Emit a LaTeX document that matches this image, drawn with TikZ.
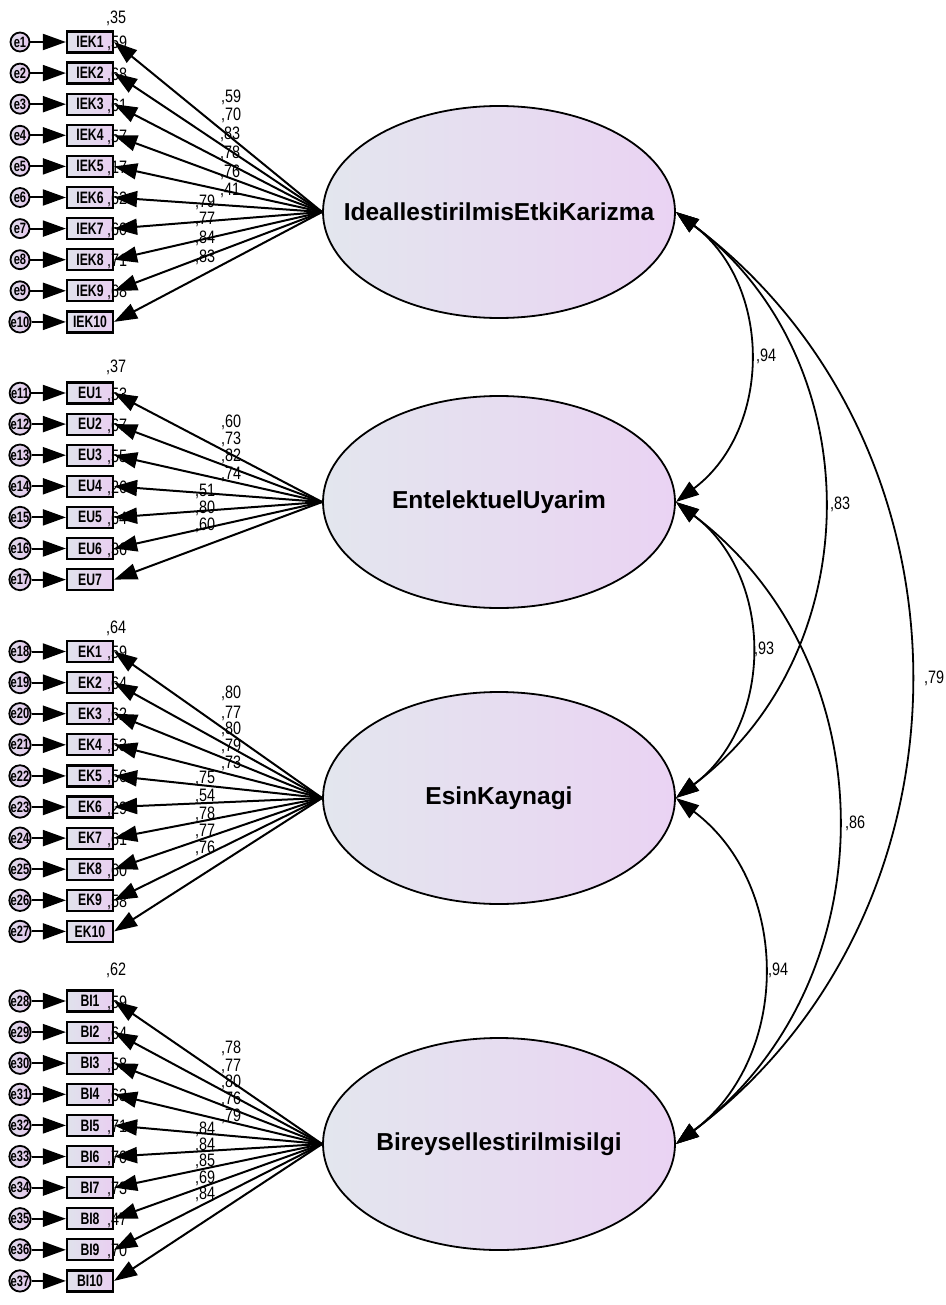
\documentclass[tikz,border=0pt]{standalone}
\usepackage{fontspec}
\setmainfont{Liberation Sans}
\newfontfamily\valfont{Liberation Sans}[FakeStretch=0.8]
\newfontfamily\boxfont{Liberation Sans}[FakeStretch=0.74]
\usetikzlibrary{arrows.meta,shapes.geometric}

\definecolor{latL}{RGB}{227,230,238}
\definecolor{latR}{RGB}{234,211,243}
\definecolor{boxL}{RGB}{224,226,236}
\definecolor{boxR}{RGB}{233,207,241}
\definecolor{errL}{RGB}{220,218,232}
\definecolor{errR}{RGB}{230,200,238}

\tikzset{
  ind/.style={draw, line width=2.2pt, minimum width=46pt, minimum height=21pt,
    inner sep=0pt, left color=boxL, right color=boxR,
    font=\boxfont\bfseries\fontsize{16.5}{16.5}\selectfont},
  err/.style={draw, circle, line width=1.8pt, minimum size=19pt, inner sep=0pt,
    left color=errL, right color=errR,
    font=\boxfont\bfseries\fontsize{15}{15}\selectfont},
  lat/.style={draw, ellipse, line width=1.8pt, minimum width=352pt,
    minimum height=212pt, inner sep=0pt, left color=latL, right color=latR},
  latname/.style={font=\bfseries\fontsize{24.5}{26}\selectfont, inner sep=0pt},
  path/.style={line width=2pt, -{Triangle[length=23pt,width=16pt]}},
  cov/.style={line width=1.8pt,
    {Triangle[length=23pt,width=16pt]}-{Triangle[length=23pt,width=16pt]},
    bend left=53, looseness=1.07},
  val/.style={font=\valfont\fontsize{18}{18}\selectfont, inner sep=0pt},
}

% indicator boxes with their error terms
% #1 prefix, #2 count, #3 first row y, #4 first error number
\newcommand\indblock[4]{%
  \foreach \i in {1,...,#2}{%
    \pgfmathsetmacro\yy{#3+(\i-1)*31.1}%
    \pgfmathtruncatemacro\en{#4+\i-1}%
    \node[ind] (#1\i) at (90,\yy) {#1\i};
    \node[err] (e\en) at (20,\yy) {e\en};
    \draw[path] (e\en) -- (#1\i);
  }}

% squared multiple correlations: #1 prefix, #2 y of first value, #3 first value, #4 remaining values
\newcommand\rsqblock[4]{%
  \node[val, anchor=base west] at (106,#2+6) {,#3};
  \foreach \v [count=\k] in {#4}{%
    \path (#1\k.center) ++(17,7) node[val, anchor=base west] {,\v};
  }}

% factor loadings: #1 prefix, #2 count, #3 latent
\newcommand\loadblock[3]{%
  \foreach \i in {1,...,#2}{%
    \draw[path] (#3.west) -- (#1\i.east);
  }}

\begin{document}
\begin{tikzpicture}[x=1pt,y=-1pt]
\useasboundingbox (0,0) rectangle (945,1305);

% latent factors
\node[lat] (Karizma) at (499,212) {};
\node[latname] at (Karizma) {IdeallestirilmisEtkiKarizma};
\node[lat] (Uyarim) at (499,502) {};
\node[latname] at (Uyarim) {EntelektuelUyarim};
\node[lat] (Esin) at (499,798) {};
\node[latname] at (Esin) {EsinKaynagi};
\node[lat] (Bilgi) at (499,1144) {};
\node[latname] at (Bilgi) {Bireysellestirilmisilgi};

% observed indicators
\indblock{IEK}{10}{42}{1}
\indblock{EU}{7}{393}{11}
\indblock{EK}{10}{651.5}{18}
\indblock{BI}{10}{1001}{28}

% squared multiple correlations
\rsqblock{IEK}{18}{35}{59,68,61,57,17,62,60,71,68}
\rsqblock{EU}{366}{37}{53,67,55,26,64,36}
\rsqblock{EK}{627}{64}{59,64,62,53,56,29,61,60,58}
\rsqblock{BI}{969}{62}{59,64,58,63,71,70,73,47,70}

% loadings
\loadblock{IEK}{10}{Karizma}
\loadblock{EU}{7}{Uyarim}
\loadblock{EK}{10}{Esin}
\loadblock{BI}{10}{Bilgi}

% loading estimates
\foreach \x/\y/\v in {221/97/59,221/115/70,220/134/83,220/153/78,220/172/76,
  220/190/41,195/202/79,195/219/77,195/238/84,195/257/83,
  221/421/60,221/438/73,221/455/82,221/473/74,195/490/51,195/507/80,195/524/60,
  221/692/80,221/712/77,221/728/80,221/745/79,221/762/73,
  195/777/75,195/795/54,195/813/78,195/830/77,195/847/76,
  221/1047/78,221/1065/77,221/1081/80,221/1098/76,221/1115/79,
  195/1128/84,195/1144/84,195/1160/85,195/1177/69,195/1193/84}
  \node[val, anchor=base west] at (\x,\y+6) {,\v};

% factor covariances
\draw[cov] (Karizma.east) to (Uyarim.east);
\draw[cov] (Karizma.east) to (Esin.east);
\draw[cov] (Karizma.east) to (Bilgi.east);
\draw[cov] (Uyarim.east) to (Esin.east);
\draw[cov] (Uyarim.east) to (Bilgi.east);
\draw[cov] (Esin.east) to (Bilgi.east);

\node[val] at (766,356) {,94};
\node[val] at (840,504) {,83};
\node[val] at (764,649) {,93};
\node[val] at (855,823) {,86};
\node[val] at (778,970) {,94};
\node[val] at (934,678) {,79};
\end{tikzpicture}
\end{document}
